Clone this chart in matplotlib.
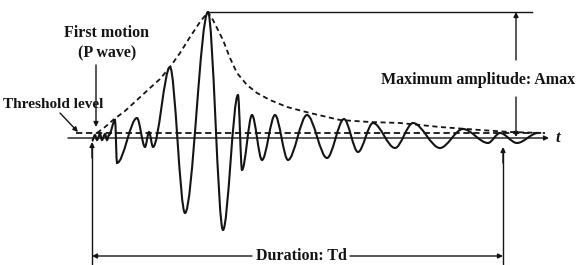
import matplotlib.pyplot as plt
from matplotlib.path import Path
from matplotlib.patches import PathPatch

# Trace extrema: time (px along t) and amplitude above baseline (px)
wave_t = [92, 95, 97, 100, 102, 105, 107, 109, 115, 117, 137, 145, 149, 153,
          170, 185, 208, 223, 238, 242, 252, 262, 275, 288, 307, 327, 344, 358,
          373, 395, 413, 440, 463, 488, 500, 517, 538]
wave_a = [-3, 3, -2, 4, -2, 4, -2, 3, 18, -25, 20, -9, 6, -9,
          71, -75, 126, -92, 43, -32, 23, -22, 23, -22, 23, -20, 19, -14,
          15, -10, 15, -10, 9, -5, 5, -5, 5]

# Dashed envelope
env_t = [97, 105, 113, 125, 137, 150, 160, 170, 180, 190, 200, 208,
         213, 218, 223, 230, 237, 247, 257, 270, 287, 310, 340, 370,
         400, 440, 480, 510, 543]
env_a = [5, 11, 18, 27, 38, 50, 59, 71, 85, 101, 116, 126,
         118, 108, 98, 80, 65, 53, 45, 38, 31, 25, 18, 16,
         15, 11, 8, 6, 5]

threshold = 5
t_start, t_end = 92, 503
amax_x = 516

INK = '#141414'
plt.rcParams['font.family'] = ['Liberation Serif', 'DejaVu Serif']

fig = plt.figure(figsize=(5.77, 2.65), dpi=100)
ax = fig.add_axes([0, 0, 1, 1])
ax.set_xlim(0, 577)
ax.set_ylim(-127, 138)
ax.axis('off')

# waveform as smooth half-cycles between extrema
verts = [(wave_t[0], wave_a[0])]
codes = [Path.MOVETO]
for i in range(1, len(wave_t)):
    t0, a0 = wave_t[i - 1], wave_a[i - 1]
    t1, a1 = wave_t[i], wave_a[i]
    dt = t1 - t0
    verts += [(t0 + 0.33 * dt, a0), (t1 - 0.33 * dt, a1), (t1, a1)]
    codes += [Path.CURVE4] * 3
ax.add_patch(PathPatch(Path(verts, codes), fill=False, ec=INK, lw=1.5))

# baseline with arrow to t
arrow = dict(arrowstyle='-|>', color=INK, lw=1.0, mutation_scale=7, shrinkA=0, shrinkB=0)
ax.annotate('', xy=(549, 0), xytext=(68, 0), arrowprops=arrow)
ax.text(556, 0, 't', fontsize=12, style='italic', fontweight='bold', color=INK,
        va='center', ha='left')

# threshold level (dashed) and envelope
ax.plot([76, 545], [threshold, threshold], color=INK, lw=1.3, ls=(0, (3.5, 2)))
ax.plot(env_t, env_a, color=INK, lw=1.3, ls=(0, (2.8, 2)))

# maximum amplitude
ax.plot([wave_t[16], 532], [126, 126], color=INK, lw=1.0)
ax.annotate('', xy=(amax_x, 126), xytext=(amax_x, 78), arrowprops=arrow)
ax.annotate('', xy=(amax_x, 1), xytext=(amax_x, 41), arrowprops=arrow)
ax.text(575, 58, 'Maximum amplitude: Amax', fontsize=11.5, fontweight='bold',
        color=INK, ha='right', va='center')

# first motion
ax.annotate('', xy=(96, 11), xytext=(96, 73), arrowprops=arrow)
ax.text(107, 105, 'First motion', fontsize=11.5, fontweight='bold', color=INK,
        ha='center', va='center')
ax.text(107, 85, '(P wave)', fontsize=11.5, fontweight='bold', color=INK,
        ha='center', va='center')

# threshold label
ax.annotate('', xy=(78, 6), xytext=(60, 25), arrowprops=arrow)
ax.text(3, 34, 'Threshold level', fontsize=11, fontweight='bold', color=INK,
        ha='left', va='center')

# duration
ax.plot([t_start, t_start], [-127, -6], color=INK, lw=1.0)
ax.annotate('', xy=(t_start, -4), xytext=(t_start, -20), arrowprops=arrow)
ax.plot([t_end, t_end], [-127, -11], color=INK, lw=1.0)
ax.annotate('', xy=(t_end, -9), xytext=(t_end, -25), arrowprops=arrow)
ax.annotate('', xy=(t_start, -118), xytext=(252, -118), arrowprops=arrow)
ax.annotate('', xy=(t_end, -118), xytext=(350, -118), arrowprops=arrow)
ax.text(301, -118, 'Duration: Td', fontsize=11.5, fontweight='bold', color=INK,
        ha='center', va='center')

fig.savefig('out.png', dpi=100)
